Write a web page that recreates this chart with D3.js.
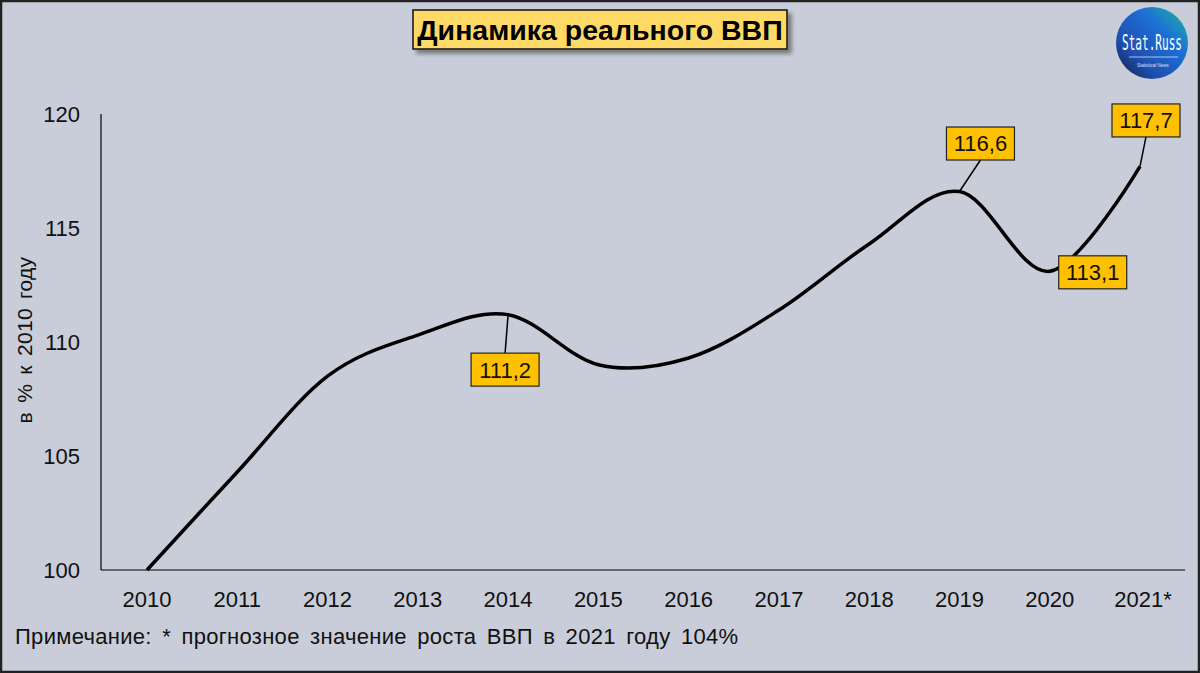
<!DOCTYPE html>
<meta charset="utf-8">
<head>
<script src="https://cdn.jsdelivr.net/npm/d3@7"></script>
<style>
  body { margin: 0; background: #c8cdd9; }
  svg { display: block; font-family: "Liberation Sans", Arial, sans-serif; }
</style>
</head>
<body>
<svg id="chart" width="1200" height="673"></svg>
<script>
    // data
    var years = ["2010", "2011", "2012", "2013", "2014", "2015", "2016", "2017", "2018", "2019", "2020", "2021*"];
    var gdp = [100, 104.3, 108.5, 110.3, 111.2, 109.0, 109.3, 111.4, 114.3, 116.6, 113.1, 117.7];
    var yTicks = [100, 105, 110, 115, 120];
    var labelIdx = [4, 9, 10, 11];
    var labelText = ["111,2", "116,6", "113,1", "117,7"];

    var title = "Динамика реального ВВП";
    var yTitle = "в % к 2010 году";
    var note = "Примечание: * прогнозное значение роста ВВП в 2021 году 104%";

    var W = 1200, H = 673;
    var svg = d3.select("#chart");

    var defs = svg.append("defs");
    defs.append("filter").attr("id", "shadow")
        .attr("x", "-10%").attr("y", "-30%").attr("width", "130%").attr("height", "180%")
        .append("feDropShadow")
        .attr("dx", 4).attr("dy", 4).attr("stdDeviation", 2)
        .attr("flood-color", "#555").attr("flood-opacity", 0.7);
    var grad = defs.append("linearGradient").attr("id", "logoGrad")
        .attr("x1", "100%").attr("y1", "0%").attr("x2", "0%").attr("y2", "100%");
    grad.append("stop").attr("offset", "0%").attr("stop-color", "#1fb89a");
    grad.append("stop").attr("offset", "35%").attr("stop-color", "#1c6fd6");
    grad.append("stop").attr("offset", "70%").attr("stop-color", "#1f4fb0");
    grad.append("stop").attr("offset", "100%").attr("stop-color", "#101a3a");

    // background + frame
    svg.append("rect").attr("x", 1).attr("y", 1).attr("width", W - 2).attr("height", H - 2)
        .attr("fill", "#c8cdd9").attr("stroke", "#222").attr("stroke-width", 2.5);

    var x = d3.scalePoint().domain(years).range([147, 1140]);
    var y = d3.scaleLinear().domain([100, 120]).range([570, 114]);

    // axes
    svg.append("line").attr("x1", 101).attr("x2", 101).attr("y1", y(120)).attr("y2", y(100))
        .attr("stroke", "#000").attr("stroke-width", 1.2);
    svg.append("line").attr("x1", 101).attr("x2", 1185).attr("y1", y(100)).attr("y2", y(100))
        .attr("stroke", "#000").attr("stroke-width", 1.2);

    svg.selectAll(".ytick").data(yTicks).enter().append("text")
        .attr("x", 80).attr("y", function(d){ return y(d); }).attr("dy", "0.36em")
        .attr("text-anchor", "end").attr("font-size", 22).attr("fill", "#111")
        .text(function(d){ return d; });

    svg.selectAll(".xtick").data(years).enter().append("text")
        .attr("x", function(d){ return x(d) + (d.indexOf("*") > 0 ? 3 : 0); })
        .attr("y", 607).attr("text-anchor", "middle")
        .attr("font-size", 22).attr("fill", "#111")
        .text(function(d){ return d; });

    svg.append("text").attr("transform", "translate(32,340) rotate(-90)")
        .attr("text-anchor", "middle").attr("font-size", 21).attr("word-spacing", 3)
        .attr("letter-spacing", 0.3).attr("fill", "#111")
        .text(yTitle);

    svg.append("text").attr("x", 15).attr("y", 644).attr("font-size", 22)
        .attr("word-spacing", 4).attr("letter-spacing", 0.3).attr("fill", "#111")
        .text(note);

    // line
    var line = d3.line()
        .x(function(d, i){ return x(years[i]); })
        .y(function(d){ return y(d); })
        .curve(d3.curveCardinal.tension(0));
    svg.append("path").datum(gdp).attr("d", line)
        .attr("fill", "none").attr("stroke", "#000").attr("stroke-width", 3.5)
        .attr("stroke-linejoin", "round");

    // data labels (offset of box centre from point)
    var offs = [[-3, 55], [21, -48], [43, 1], [6, -46]];
    var bw = 68, bh = 33;
    labelIdx.forEach(function(k, j){
        var px = x(years[k]), py = y(gdp[k]);
        var cx = px + offs[j][0], cy = py + offs[j][1];
        if (Math.abs(offs[j][1]) > bh / 2 + 2) {
            var ey = offs[j][1] > 0 ? cy - bh / 2 : cy + bh / 2;
            svg.append("line").attr("x1", px).attr("y1", py).attr("x2", cx).attr("y2", ey)
                .attr("stroke", "#000").attr("stroke-width", 1.5);
        }
        svg.append("rect").attr("x", cx - bw / 2).attr("y", cy - bh / 2)
            .attr("width", bw).attr("height", bh)
            .attr("fill", "#ffc000").attr("stroke", "#222").attr("stroke-width", 1.2);
        svg.append("text").attr("x", cx).attr("y", cy).attr("dy", "0.36em")
            .attr("text-anchor", "middle").attr("font-size", 22).attr("fill", "#111")
            .text(labelText[j]);
    });

    // title
    var tg = svg.append("g");
    tg.append("rect").attr("x", 413).attr("y", 10).attr("width", 374).attr("height", 39)
        .attr("fill", "#ffd966").attr("stroke", "#111").attr("stroke-width", 1.5)
        .attr("filter", "url(#shadow)");
    tg.append("text").attr("x", 600).attr("y", 30).attr("dy", "0.36em")
        .attr("text-anchor", "middle").attr("font-size", 28.5).attr("font-weight", "bold")
        .attr("fill", "#000").text(title);

    // logo
    var lg = svg.append("g");
    lg.append("circle").attr("cx", 1152).attr("cy", 43).attr("r", 36).attr("fill", "url(#logoGrad)");
    lg.append("text").attr("x", 1122).attr("y", 50)
        .attr("font-family", "DejaVu Sans Mono, monospace").attr("font-size", 22)
        .attr("textLength", 60).attr("lengthAdjust", "spacingAndGlyphs")
        .attr("fill", "#fff").text("Stat.Russ");
    lg.append("line").attr("x1", 1129).attr("x2", 1178).attr("y1", 57).attr("y2", 57)
        .attr("stroke", "#cfe3ff").attr("stroke-width", 0.8);
    lg.append("text").attr("x", 1153).attr("y", 67).attr("text-anchor", "middle")
        .attr("font-size", 4.5).attr("fill", "#cfe3ff").text("Statistical    News");
</script>
</body>
